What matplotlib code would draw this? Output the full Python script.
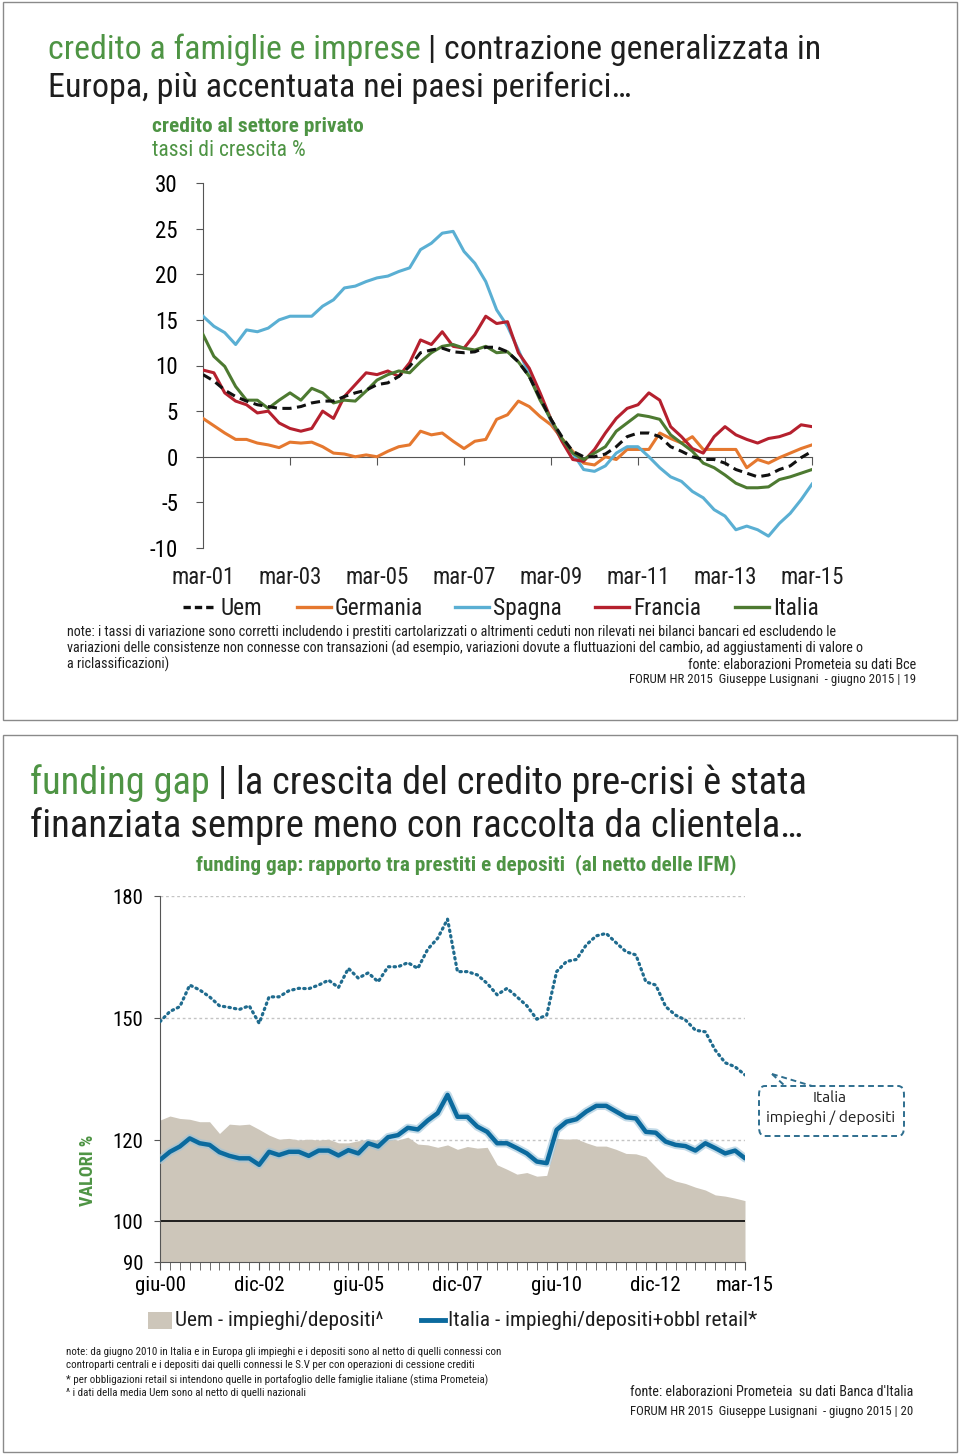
import numpy as np
import matplotlib
matplotlib.use('Agg')
import matplotlib.pyplot as plt
import matplotlib.patheffects as pe
from matplotlib.lines import Line2D
from matplotlib.patches import Rectangle, FancyBboxPatch

FONT = ['Ubuntu Condensed', 'Roboto Condensed', 'Liberation Sans Narrow', 'Roboto', 'DejaVu Sans']
BOLD = ['Roboto Condensed', 'Ubuntu Condensed', 'Liberation Sans Narrow', 'Roboto', 'DejaVu Sans']
plt.rcParams['font.family'] = FONT

# ---- chart 1: credito al settore privato, tassi di crescita % (quarterly, mar-01 .. mar-15)
months = np.arange(0, 169, 3)
x1_ticks = [0, 24, 48, 72, 96, 120, 144, 168]
x1_labels = ['mar-01', 'mar-03', 'mar-05', 'mar-07', 'mar-09', 'mar-11', 'mar-13', 'mar-15']

uem = [9.0, 8.3, 7.3, 6.6, 6.1, 5.7, 5.5, 5.3, 5.3, 5.5, 5.9, 6.1, 6.1, 6.6, 7.0, 7.3, 7.9, 8.1, 8.8,
       9.9, 11.4, 11.7, 11.9, 11.5, 11.4, 11.5, 12.0, 12.0, 11.5, 10.4, 8.8, 6.4, 4.1, 2.2, 0.6, 0.0, 0.0, 0.3,
       1.1, 2.2, 2.6, 2.6, 2.2, 1.1, 0.6, 0.0, -0.3, -0.3, -0.7, -1.4, -1.8, -2.2, -2.0, -1.4, -1.0, -0.1, 0.6]
germania = [4.2, 3.4, 2.6, 1.9, 1.9, 1.5, 1.3, 1.0, 1.6, 1.5, 1.6, 1.1, 0.4, 0.3, 0.0, 0.2, 0.0, 0.6, 1.1,
            1.3, 2.8, 2.4, 2.6, 1.7, 0.9, 1.7, 1.9, 4.1, 4.6, 6.1, 5.5, 4.4, 3.5, 2.0, 0.6, -0.7, -0.9, 0.0,
            -0.3, 0.8, 0.8, 0.8, 2.6, 2.0, 1.5, 2.2, 0.8, 0.8, 0.8, 0.8, -1.2, -0.3, -0.7, -0.1, 0.4, 0.9, 1.3]
spagna = [15.4, 14.3, 13.6, 12.3, 13.9, 13.7, 14.1, 15.0, 15.4, 15.4, 15.4, 16.5, 17.2, 18.5, 18.7, 19.2, 19.6, 19.8, 20.3,
          20.7, 22.7, 23.4, 24.5, 24.7, 22.5, 21.2, 19.2, 16.1, 14.3, 11.7, 9.0, 6.6, 3.9, 1.9, 0.4, -1.4, -1.6, -1.0,
          0.4, 1.1, 1.1, 0.0, -1.2, -2.2, -2.7, -3.8, -4.5, -5.8, -6.5, -8.0, -7.6, -8.0, -8.7, -7.3, -6.2, -4.7, -3.0]
francia = [9.5, 9.2, 7.0, 6.1, 5.7, 4.8, 5.0, 3.7, 3.1, 2.8, 3.1, 5.0, 4.2, 6.6, 7.9, 9.2, 9.0, 9.4, 8.8,
           10.3, 12.8, 12.3, 13.7, 12.1, 11.9, 13.4, 15.4, 14.6, 14.8, 11.4, 9.7, 7.0, 4.1, 1.7, -0.3, -0.5, 0.8, 2.6,
           4.2, 5.3, 5.7, 7.0, 6.2, 3.3, 2.2, 0.9, 0.4, 2.2, 3.3, 2.4, 1.9, 1.5, 2.0, 2.2, 2.6, 3.5, 3.3]
italia = [13.4, 11.0, 9.9, 7.7, 6.2, 6.2, 5.3, 6.2, 7.0, 6.2, 7.5, 7.0, 5.9, 6.2, 6.1, 7.2, 8.4, 9.0, 9.4,
          9.2, 10.4, 11.4, 12.1, 12.3, 11.9, 11.7, 12.1, 11.4, 11.5, 10.4, 8.8, 6.2, 4.1, 2.0, 0.4, -0.3, 0.4, 1.1,
          2.8, 3.7, 4.6, 4.4, 4.1, 2.4, 1.5, 0.6, -0.7, -1.2, -2.0, -2.9, -3.4, -3.4, -3.3, -2.5, -2.2, -1.8, -1.4]

series1 = ['Uem', 'Germania', 'Spagna', 'Francia', 'Italia']
colors1 = ['#111111', '#E5782F', '#5AAFD3', '#B5202E', '#4D7A31']

# ---- chart 2: funding gap (quarterly, giu-00 .. mar-15)
quarters = np.arange(60)
x2_ticks = [0, 10, 20, 30, 40, 50, 59]
x2_labels = ['giu-00', 'dic-02', 'giu-05', 'dic-07', 'giu-10', 'dic-12', 'mar-15']

uem_area = [124.9, 125.9, 125.3, 125.1, 124.5, 124.5, 121.6, 123.9, 123.7, 123.9, 122.6, 121.2, 120.2, 120.4, 120.0,
            120.2, 120.0, 120.2, 119.3, 119.3, 119.8, 120.2, 120.0, 120.2, 120.0, 120.7, 119.0, 118.8, 118.2, 118.8,
            117.7, 118.4, 118.0, 118.2, 113.9, 112.8, 111.6, 112.0, 111.1, 111.3, 120.4, 120.2, 120.3, 119.3, 118.5,
            118.5, 117.7, 116.7, 116.6, 115.9, 113.4, 111.0, 109.9, 109.3, 108.4, 107.7, 106.5, 106.2, 105.7, 105.1]
ita_retail = [115.1, 117.1, 118.4, 120.4, 119.2, 118.8, 117.0, 116.1, 115.5, 115.5, 113.9, 117.1, 116.3, 117.1, 117.1,
              116.1, 117.4, 117.4, 116.2, 117.5, 116.7, 119.2, 118.4, 120.7, 121.2, 123.0, 122.6, 124.8, 126.6, 131.1,
              125.7, 125.7, 123.3, 122.0, 119.2, 119.2, 118.0, 116.7, 114.7, 114.3, 122.5, 124.5, 125.1, 127.0, 128.4,
              128.4, 127.0, 125.6, 125.3, 122.0, 121.8, 119.6, 118.8, 118.5, 117.4, 119.2, 118.0, 116.7, 117.4, 115.5]
ita_dep = [149.1, 151.6, 152.8, 158.1, 156.9, 155.2, 153.0, 152.6, 152.1, 153.0, 148.7, 155.2, 155.2, 156.7, 157.3,
           157.2, 158.1, 159.3, 157.5, 162.2, 159.8, 161.1, 158.9, 162.6, 162.6, 163.6, 162.2, 166.9, 169.6, 174.3,
           161.4, 161.4, 160.6, 158.5, 155.7, 157.3, 155.2, 153.0, 149.7, 150.7, 161.4, 163.9, 164.4, 168.0, 170.2,
           170.8, 168.5, 166.3, 165.5, 158.9, 158.1, 152.8, 150.7, 149.5, 147.0, 146.6, 142.1, 139.0, 138.0, 136.0]

GREEN = '#4E9444'
DARK = '#1e1e1e'
W, H = 960.0, 1455.0

fig = plt.figure(figsize=(9.6, 14.55), dpi=100)
fig.patch.set_facecolor('white')


def fx(x):
    return x / W


def fy(y):
    return 1 - y / H


def txt(x, y, s, **kw):
    kw.setdefault('va', 'center')
    kw.setdefault('color', DARK)
    return fig.text(fx(x), fy(y), s, **kw)


def two_tone(x, y, s1, s2, size):
    # green first part, dark rest, on one line
    t = txt(x, y, s1, fontsize=size, color=GREEN)
    r = fig.canvas.get_renderer()
    bb = t.get_window_extent(renderer=r)
    txt(bb.x1 + size * 0.3, y, s2, fontsize=size, color=DARK)


# slide borders
for y0, y1 in [(2, 720), (735, 1452)]:
    fig.add_artist(Rectangle((fx(3), fy(y1)), fx(954), (y1 - y0) / H, transform=fig.transFigure,
                             fill=False, edgecolor='#8a8a8a', lw=1))

# ---------------- slide 1 ----------------
two_tone(48, 50, 'credito a famiglie e imprese', '| contrazione generalizzata in', 24.4)
txt(48, 88, 'Europa, più accentuata nei paesi periferici…', fontsize=24.6)
txt(152, 127, 'credito al settore privato', fontsize=15.4, color=GREEN, fontweight='bold', fontfamily=BOLD)
txt(152, 151, 'tassi di crescita %', fontsize=15.6, color=GREEN)

ax1 = fig.add_axes([fx(203), fy(548), 609 / W, 365 / H])
for name, vals, c in zip(series1, [uem, germania, spagna, francia, italia], colors1):
    if name == 'Uem':
        continue
    ax1.plot(months, vals, color=c, lw=2.2, zorder=3)
ax1.plot(months, uem, color=colors1[0], lw=2.2, ls=(0, (3, 1.8)), zorder=4)
ax1.set_xlim(0, 168)
ax1.set_ylim(-10, 30)
ax1.set_yticks(np.arange(-10, 31, 5))
ax1.set_yticklabels([str(v) for v in range(-10, 31, 5)], fontsize=16.5)
ax1.spines['bottom'].set_position(('data', 0))
ax1.spines['top'].set_visible(False)
ax1.spines['right'].set_visible(False)
for s in ['left', 'bottom']:
    ax1.spines[s].set_color('#555555')
ax1.set_xticks(x1_ticks[1:])
ax1.set_xticklabels([])
ax1.tick_params(axis='x', direction='out', length=6, color='#555555')
ax1.tick_params(axis='y', direction='out', length=5, color='#555555', pad=13)
for t, l in zip(x1_ticks, x1_labels):
    ax1.text(t, -0.08, l, transform=ax1.get_xaxis_transform(), ha='center', va='center', fontsize=16.5, color=DARK)

# legend
leg_x = [183, 297, 455, 595, 735]
for xx, name, c in zip(leg_x, series1, colors1):
    ls = (0, (2.2, 1.2)) if name == 'Uem' else '-'
    fig.add_artist(Line2D([fx(xx), fx(xx + 34)], [fy(607), fy(607)], color=c, lw=2.4, ls=ls,
                          transform=fig.transFigure))
    txt(xx + 38, 608, name, fontsize=16.8)

notes1 = ['note: i tassi di variazione sono corretti includendo i prestiti cartolarizzati o altrimenti ceduti non rilevati nei bilanci bancari ed escludendo le',
          'variazioni delle consistenze non connesse con transazioni (ad esempio, variazioni dovute a fluttuazioni del cambio, ad aggiustamenti di valore o',
          'a riclassificazioni)']
for i, n in enumerate(notes1):
    txt(67, 632 + 16 * i, n, fontsize=10.2)
txt(916, 665, 'fonte: elaborazioni Prometeia su dati Bce', fontsize=10.2, ha='right')
txt(916, 680, 'FORUM HR 2015  Giuseppe Lusignani  - giugno 2015 | 19', fontsize=9.25, ha='right')

# ---------------- slide 2 ----------------
two_tone(30, 783, 'funding gap', '| la crescita del credito pre-crisi è stata', 27.6)
txt(30, 826, 'finanziata sempre meno con raccolta da clientela…', fontsize=27.8)
txt(196, 865, 'funding gap: rapporto tra prestiti e depositi  (al netto delle IFM)', fontsize=15.3,
    color=GREEN, fontweight='bold', fontfamily=BOLD)

ax2 = fig.add_axes([fx(160), fy(1262), 585 / W, 366 / H])
ax2.fill_between(quarters, 90, uem_area, color='#CDC6BA', lw=0, zorder=1)
for v in [120, 150, 180]:
    ax2.axhline(v, color='#c4c4c4', lw=1, ls=(0, (2, 2)), zorder=0.5)
ax2.axhline(100, color='#111111', lw=1.3, zorder=2)
ax2.plot(quarters, ita_retail, color='#0B6A9E', lw=3.2, zorder=4, solid_capstyle='round',
         path_effects=[pe.Stroke(linewidth=6, foreground='#9CC3DA', alpha=0.6), pe.Normal()])
ax2.plot(quarters, ita_dep, color='#1F6B8E', lw=2.3, ls=(0, (0.45, 1.3)), dash_capstyle='round', zorder=4)
ax2.set_xlim(0, 59)
ax2.set_ylim(90, 180)
ax2.set_yticks([90, 100, 120, 150, 180])
ax2.set_yticklabels(['90', '100', '120', '150', '180'], fontsize=15)
ax2.set_xticks(x2_ticks)
ax2.set_xticklabels(x2_labels, fontsize=15)
ax2.set_xticks(quarters, minor=True)
ax2.tick_params(axis='x', which='both', direction='out', length=6, color='#555555', pad=4)
ax2.tick_params(axis='y', direction='out', length=4, color='#555555', pad=8)
ax2.spines['top'].set_visible(False)
ax2.spines['right'].set_visible(False)
for s in ['left', 'bottom']:
    ax2.spines[s].set_color('#555555')

txt(88, 1170, 'VALORI %', fontsize=13, color=GREEN, fontweight='bold', rotation=90, ha='center', fontfamily=BOLD)

# callout box
fig.add_artist(FancyBboxPatch((fx(759), fy(1136)), fx(145), 50 / H, boxstyle='round,pad=0,rounding_size=0.006',
                              transform=fig.transFigure, fill=True, facecolor='white',
                              edgecolor='#2E6E8E', lw=1.4, ls=(0, (3, 2))))
for x_end in [785, 812]:
    fig.add_artist(Line2D([fx(772), fx(x_end)], [fy(1074), fy(1086)], color='#2E6E8E', lw=1.4,
                          ls=(0, (3, 2)), transform=fig.transFigure))
txt(830, 1098, 'Italia', fontsize=11.2, ha='center', fontfamily=['Ubuntu', 'Open Sans', 'DejaVu Sans'])
txt(831, 1118, 'impieghi / depositi', fontsize=11.2, ha='center', fontfamily=['Ubuntu', 'Open Sans', 'DejaVu Sans'])

# legend
fig.add_artist(Rectangle((fx(148), fy(1329)), fx(24), 17 / H, transform=fig.transFigure,
                         color='#CDC6BA', lw=0))
txt(175, 1320, 'Uem - impieghi/depositi^', fontsize=15.4)
fig.add_artist(Line2D([fx(421), fx(445)], [fy(1320), fy(1320)], color='#0B6A9E', lw=3.5,
                      transform=fig.transFigure))
txt(448, 1320, 'Italia - impieghi/depositi+obbl retail*', fontsize=15.4)

notes2 = [(1352, 'note: da giugno 2010 in Italia e in Europa gli impieghi e i depositi sono al netto di quelli connessi con'),
          (1365, 'controparti centrali e i depositi dai quelli connessi le S.V per con operazioni di cessione crediti'),
          (1380, '* per obbligazioni retail si intendono quelle in portafoglio delle famiglie italiane (stima Prometeia)'),
          (1393, '^ i dati della media Uem sono al netto di quelli nazionali')]
for yy, n in notes2:
    txt(66, yy, n, fontsize=7.9)
txt(913, 1392, "fonte: elaborazioni Prometeia  su dati Banca d'Italia", fontsize=10.1, ha='right')
txt(913, 1411, 'FORUM HR 2015  Giuseppe Lusignani  - giugno 2015 | 20', fontsize=9.2, ha='right')

fig.savefig('out.png', dpi=100, facecolor='white')
